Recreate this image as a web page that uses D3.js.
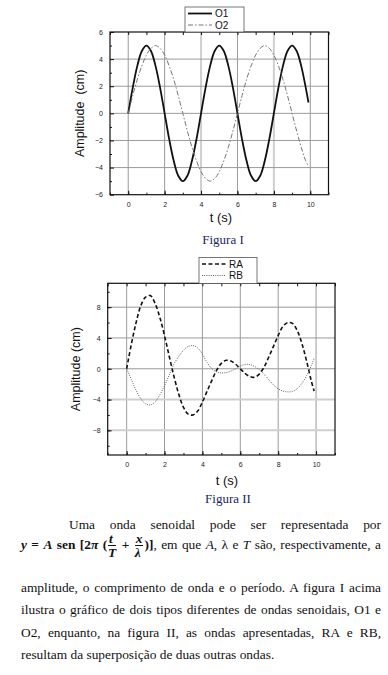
<!DOCTYPE html>
<html>
<head>
  <meta charset="utf-8">
  <script src="https://d3js.org/d3.v7.min.js"></script>
</head>
<style>
  body { margin: 0; background: #fff; width: 388px; height: 675px; overflow: hidden; position: relative; }
  svg { position: absolute; left: 0; top: 0; }
  .tick-label { font-family: "Liberation Sans", Arial, sans-serif; font-size: 7px; fill: #222; }
  .axis-title { font-family: "Liberation Sans", Arial, sans-serif; fill: #111; }
  .caption { font-family: "Liberation Serif", "Times New Roman", serif; font-size: 13px; fill: #1a2560; }
  .legend-text { font-family: "Liberation Sans", Arial, sans-serif; font-size: 10px; fill: #111; }
  .txt { position: absolute; left: 21px; width: 360px; font-family: "Liberation Serif", "Times New Roman", serif; font-size: 13.4px; color: #111; white-space: nowrap; }
  .just { text-align: justify; text-align-last: justify; white-space: normal; }
  .frac { display: inline-block; vertical-align: middle; text-align: center; font-weight: bold; font-style: italic; line-height: 13px; margin: 0 1px; }
  .frac span { display: block; }
  .frac .num { border-bottom: 1.3px solid #111; padding: 0 1px; }
</style>
<body>
  <svg id="chart" width="388" height="510"></svg>

  <div class="txt just" style="top:517px; padding-left:48px; width:312px;">Uma onda senoidal pode ser representada por</div>
  <div class="txt just" style="top:532px;"><b><i>y</i> = <i>A</i> sen [2<i>π</i> (<span class="frac"><span class="num">t</span><span>T</span></span> + <span class="frac"><span class="num">x</span><span>λ</span></span>)]</b>, em que <i>A</i>, λ e <i>T</i> são, respectivamente, a</div>
  <div class="txt just" style="top:580px;">amplitude, o comprimento de onda e o período. A figura I acima</div>
  <div class="txt just" style="top:602px;">ilustra o gráfico de dois tipos diferentes de ondas senoidais, O1 e</div>
  <div class="txt just" style="top:625px;">O2, enquanto, na figura II, as ondas apresentadas, RA e RB,</div>
  <div class="txt" style="top:647px;">resultam da superposição de duas outras ondas.</div>

  <script>
    // time samples (s), read every 0.25 s off both figures
    const tValues = [0, 0.25, 0.5, 0.75, 1, 1.25, 1.5, 1.75, 2, 2.25, 2.5, 2.75, 3,
      3.25, 3.5, 3.75, 4, 4.25, 4.5, 4.75, 5, 5.25, 5.5, 5.75, 6,
      6.25, 6.5, 6.75, 7, 7.25, 7.5, 7.75, 8, 8.25, 8.5, 8.75, 9,
      9.25, 9.5, 9.75, 9.9];

    // Figura I
    const o1 = [0, 1.9, 3.5, 4.6, 5, 4.6, 3.5, 1.9, 0, -1.9, -3.5, -4.6, -5,
      -4.6, -3.5, -1.9, 0, 1.9, 3.5, 4.6, 5, 4.6, 3.5, 1.9, 0,
      -1.9, -3.5, -4.6, -5, -4.6, -3.5, -1.9, 0, 1.9, 3.5, 4.6, 5,
      4.6, 3.5, 1.9, 0.8];
    const o2 = [0, 1.3, 2.5, 3.5, 4.3, 4.8, 5, 4.8, 4.3, 3.5, 2.5, 1.3, 0,
      -1.3, -2.5, -3.5, -4.3, -4.8, -5, -4.8, -4.3, -3.5, -2.5, -1.3, 0,
      1.3, 2.5, 3.5, 4.3, 4.8, 5, 4.8, 4.3, 3.5, 2.5, 1.3, 0,
      -1.3, -2.5, -3.5, -3.9];

    // Figura II
    const ra = [0, 3.2, 6.0, 8.2, 9.3, 9.5, 8.5, 6.7, 4.3, 1.6, -1.0, -3.3, -5.0,
      -5.9, -6.0, -5.5, -4.3, -2.9, -1.5, -0.2, 0.7, 1.1, 1.0, 0.6, 0,
      -0.6, -1.0, -1.1, -0.7, 0.2, 1.5, 2.9, 4.3, 5.5, 6.0, 5.9, 5.0,
      3.3, 1.0, -1.6, -2.9];
    const rb = [0, -1.4, -2.8, -3.9, -4.55, -4.7, -4.3, -3.4, -2.2, -0.8, 0.6, 1.6, 2.4,
      2.9, 3.0, 2.7, 1.9, 0.8, 0.0, -0.4, -0.55, -0.5, -0.3, 0.0, 0.35,
      0.55, 0.55, 0.3, -0.1, -0.7, -1.4, -2.1, -2.6, -2.9, -3.0, -2.95, -2.6,
      -1.9, -0.9, 0.4, 1.35];

    const xTicks = [0, 2, 4, 6, 8, 10];
    const yTicksTop = [-6, -4, -2, 0, 2, 4, 6];
    const yTicksBottom = [-8, -4, 0, 4, 8];

    var svg = d3.select("#chart");

    function drawPanel(opt) {
      const x = d3.scaleLinear().domain([-1, 11]).range([opt.left, opt.right]);
      const y = d3.scaleLinear().domain(opt.yDomain).range([opt.bottom, opt.top]);
      const g = svg.append("g");

      // grid
      xTicks.forEach(function (v) {
        const light = opt.lightX.includes(v);
        g.append("line")
          .attr("x1", x(v)).attr("x2", x(v))
          .attr("y1", opt.top).attr("y2", opt.bottom)
          .attr("stroke", light ? "#cfcfcf" : "#9a9a9a")
          .attr("stroke-width", light ? 2 : 1);
      });
      opt.gridY.forEach(function (v) {
        const light = opt.lightY.includes(v);
        g.append("line")
          .attr("x1", opt.left).attr("x2", opt.right)
          .attr("y1", y(v)).attr("y2", y(v))
          .attr("stroke", light ? "#cfcfcf" : "#9a9a9a")
          .attr("stroke-width", light ? 2 : 1);
      });

      // frame
      g.append("rect")
        .attr("x", opt.left).attr("y", opt.top)
        .attr("width", opt.right - opt.left).attr("height", opt.bottom - opt.top)
        .attr("fill", "none").attr("stroke", "#111").attr("stroke-width", 1.2);

      // axes with inward ticks, minor ticks each unit
      const xAxis = d3.axisBottom(x).tickValues(xTicks).tickSize(-4).tickPadding(7);
      const xAxisTop = d3.axisTop(x).tickValues(d3.range(-1, 12, 1)).tickSize(-3).tickFormat("");
      const xMinor = d3.axisBottom(x).tickValues(d3.range(-1, 12, 1)).tickSize(-2).tickFormat("");
      const yAxis = d3.axisLeft(y).tickValues(opt.yTicks).tickSize(-4).tickPadding(7);
      const yMinor = d3.axisLeft(y).tickValues(opt.yMinor).tickSize(-2).tickFormat("");

      g.append("g").attr("transform", "translate(0," + opt.bottom + ")").call(xMinor);
      g.append("g").attr("transform", "translate(0," + opt.bottom + ")").call(xAxis);
      g.append("g").attr("transform", "translate(0," + opt.top + ")").call(xAxisTop);
      g.append("g").attr("transform", "translate(" + opt.left + ",0)").call(yMinor);
      g.append("g").attr("transform", "translate(" + opt.left + ",0)").call(yAxis);
      g.selectAll(".domain").remove();
      g.selectAll(".tick line").attr("stroke", "#111");
      g.selectAll(".tick text").attr("class", "tick-label").attr("fill", null);

      // series
      const line = d3.line()
        .x(function (d) { return x(d[0]); })
        .y(function (d) { return y(d[1]); })
        .curve(d3.curveCatmullRom);
      opt.series.forEach(function (s) {
        g.append("path")
          .datum(d3.zip(tValues, s.values))
          .attr("d", line)
          .attr("fill", "none")
          .attr("stroke", s.color)
          .attr("stroke-width", s.width)
          .attr("stroke-dasharray", s.dash);
      });

      // legend
      const lg = svg.append("g");
      lg.append("rect")
        .attr("x", opt.legend[0]).attr("y", opt.legend[1])
        .attr("width", opt.legend[2]).attr("height", opt.legend[3])
        .attr("fill", "#fff").attr("stroke", "#555").attr("stroke-width", 0.8);
      opt.series.forEach(function (s, i) {
        const ly = opt.legend[1] + 6.5 + i * 11.5;
        lg.append("line")
          .attr("x1", opt.legend[0] + 3).attr("x2", opt.legend[0] + 27)
          .attr("y1", ly).attr("y2", ly)
          .attr("stroke", s.color).attr("stroke-width", s.width)
          .attr("stroke-dasharray", s.dash);
        lg.append("text")
          .attr("class", "legend-text")
          .attr("x", opt.legend[0] + 30).attr("y", ly + 3.5)
          .text(s.name);
      });

      // titles
      svg.append("text")
        .attr("class", "axis-title")
        .attr("transform", "translate(" + opt.yTitleX + "," + ((opt.top + opt.bottom) / 2) + ") rotate(-90)")
        .attr("text-anchor", "middle")
        .style("font-size", "12.5px")
        .style("white-space", "pre")
        .text(opt.yTitle);
      svg.append("text")
        .attr("class", "axis-title")
        .attr("x", opt.xTitle[0]).attr("y", opt.xTitle[1])
        .attr("text-anchor", "middle")
        .style("font-size", "13px")
        .text("t (s)");
      svg.append("text")
        .attr("class", "caption")
        .attr("x", opt.caption[0]).attr("y", opt.caption[1])
        .attr("text-anchor", "middle")
        .text(opt.captionText);
    }

    drawPanel({
      left: 110, right: 328.5, top: 32, bottom: 194.7,
      yDomain: [-6, 6], yTicks: yTicksTop, yMinor: d3.range(-5, 6, 2),
      gridY: [-4, -2, 0, 2, 4], lightX: [4, 8], lightY: [],
      series: [
        { name: "O1", values: o1, color: "#111", width: 1.8, dash: null },
        { name: "O2", values: o2, color: "#777", width: 1, dash: "5,2,1.5,2" }
      ],
      legend: [185, 7, 59, 25],
      yTitle: "Amplitude  (cm)", yTitleX: 84,
      xTitle: [221, 222], caption: [223, 244], captionText: "Figura I"
    });

    drawPanel({
      left: 107.7, right: 335, top: 283.3, bottom: 455,
      yDomain: [-11.2, 11.1], yTicks: yTicksBottom, yMinor: d3.range(-10, 11, 2),
      gridY: [-8, -4, 0, 4, 8], lightX: [], lightY: [-4, -8],
      series: [
        { name: "RA", values: ra, color: "#111", width: 1.6, dash: "4,2.5" },
        { name: "RB", values: rb, color: "#666", width: 1, dash: "1,1.2" }
      ],
      legend: [199, 257.5, 58, 26],
      yTitle: "Amplitude (cm)", yTitleX: 80,
      xTitle: [227, 485], caption: [228, 503], captionText: "Figura II"
    });
  </script>
</body>
</html>
